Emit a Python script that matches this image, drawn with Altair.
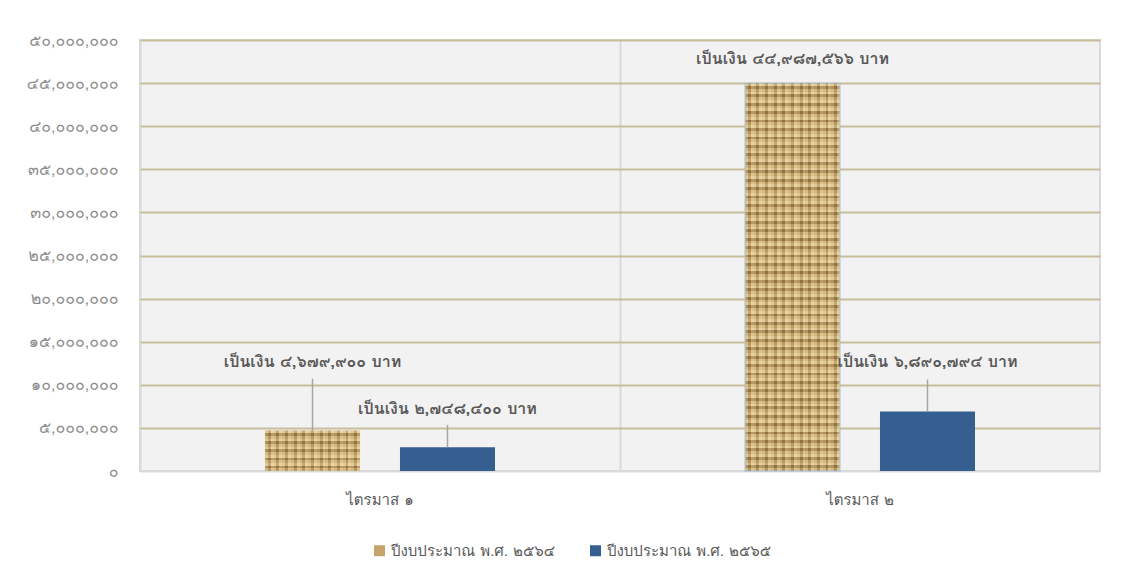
import altair as alt
import pandas as pd

quarters = ["ไตรมาส ๑", "ไตรมาส ๒"]
series = ["ปีงบประมาณ พ.ศ. ๒๕๖๔", "ปีงบประมาณ พ.ศ. ๒๕๖๕"]
values_2564 = [4679900, 44987566]
values_2565 = [2748400, 6890794]
label_text_2564 = ["เป็นเงิน ๔,๖๗๙,๙๐๐ บาท", "เป็นเงิน ๔๔,๙๘๗,๕๖๖ บาท"]
label_text_2565 = ["เป็นเงิน ๒,๗๔๘,๔๐๐ บาท", "เป็นเงิน ๖,๘๙๐,๗๙๔ บาท"]
label_at_2564 = [12600000, 47800000]
label_at_2565 = [7200000, 12600000]
leader_top_2564 = [10700000, None]
leader_top_2565 = [5350000, 10600000]
tick_labels = ["๐", "๕,๐๐๐,๐๐๐", "๑๐,๐๐๐,๐๐๐", "๑๕,๐๐๐,๐๐๐", "๒๐,๐๐๐,๐๐๐",
               "๒๕,๐๐๐,๐๐๐", "๓๐,๐๐๐,๐๐๐", "๓๕,๐๐๐,๐๐๐", "๔๐,๐๐๐,๐๐๐",
               "๔๕,๐๐๐,๐๐๐", "๕๐,๐๐๐,๐๐๐"]

rows = []
for i, q in enumerate(quarters):
    rows.append(dict(q=q, s=series[0], v=values_2564[i], lab=label_text_2564[i],
                     ly=label_at_2564[i], lt=leader_top_2564[i]))
    rows.append(dict(q=q, s=series[1], v=values_2565[i], lab=label_text_2565[i],
                     ly=label_at_2565[i], lt=leader_top_2565[i]))
df = pd.DataFrame(rows)

FONT = "Tahoma, 'Leelawadee UI', Loma, Garuda, 'Noto Sans Thai Looped', 'Noto Sans Thai', sans-serif"
TAN = "#c4a46a"
BLUE = "#355f91"

label_js = "[" + ",".join("'" + t + "'" for t in tick_labels) + "]"

x = alt.X("q:N", sort=quarters, title=None,
          scale=alt.Scale(paddingInner=0, paddingOuter=0),
          axis=alt.Axis(grid=True, bandPosition=0, gridColor="#d9d9d9", gridWidth=2,
                        domain=False, ticks=False, labelAngle=0, labelPadding=21,
                        labelFontSize=15, labelColor="#595959", labelFont=FONT))
xo = alt.XOffset("s:N", sort=series,
                 scale=alt.Scale(paddingInner=0.296, paddingOuter=0.926))
y = alt.Y("v:Q", title=None,
          scale=alt.Scale(domain=[0, 50000000]),
          axis=alt.Axis(values=list(range(0, 50000001, 5000000)),
                        labelExpr=label_js + "[round(datum.value/5000000)]",
                        gridColor={"condition": {"test": "datum.value === 0", "value": "#d9d9d9"},
                                   "value": "#c8bd9b"},
                        gridWidth=2, domain=False, ticks=False,
                        labelPadding=22, labelFontSize=16, labelColor="#8c8c8c",
                        labelFont=FONT, minExtent=132, maxExtent=132))

base = alt.Chart(df)

bars = base.mark_bar().encode(
    x=x, xOffset=xo, y=y,
    color=alt.Color("s:N", sort=series,
                    scale=alt.Scale(domain=series, range=[TAN, BLUE]),
                    legend=alt.Legend(title=None, orient="none", legendX=232, legendY=503,
                                      direction="horizontal", symbolType="square",
                                      symbolSize=121, symbolStrokeWidth=0,
                                      labelFontSize=15, labelColor="#595959",
                                      labelFont=FONT, columnPadding=32, labelLimit=300)),
)


def stripes(n, c1, c2, c3, horizontal):
    stops = []
    for k in range(n):
        a = k / n
        b = (k + 0.33) / n
        c = (k + 0.66) / n
        stops += [alt.GradientStop(offset=a, color=c1), alt.GradientStop(offset=b, color=c1),
                  alt.GradientStop(offset=b, color=c2), alt.GradientStop(offset=c, color=c2),
                  alt.GradientStop(offset=c, color=c3), alt.GradientStop(offset=min(1, (k + 1) / n), color=c3)]
    if horizontal:
        return alt.LinearGradient(gradient="linear", stops=stops, x1=0, x2=1, y1=0, y2=0)
    return alt.LinearGradient(gradient="linear", stops=stops, x1=0, x2=0, y1=0, y2=1)


s1 = base.transform_filter(alt.datum.s == series[0])
tex_v = s1.mark_bar(color=stripes(11, "#dcc28a", "#9a7842", "#ead8a8", True)).encode(
    x=x, xOffset=xo, y=y)
tex_h1 = s1.transform_filter(alt.datum.q == quarters[0]).mark_bar(
    color=stripes(5, "#e8d29e", "#8f6e3c", "#cfb27a", False), opacity=0.55).encode(
    x=x, xOffset=xo, y=y)
tex_h2 = s1.transform_filter(alt.datum.q == quarters[1]).mark_bar(
    color=stripes(46, "#e8d29e", "#8f6e3c", "#cfb27a", False), opacity=0.55,
    stroke="#9dbbe0", strokeWidth=1.5).encode(
    x=x, xOffset=xo, y=y)

leaders = base.transform_filter(alt.datum.lt != None).mark_rule(
    color="#a6a6a6", strokeWidth=1.5).encode(
    x=x, xOffset=xo, y=y, y2="lt:Q")

labels = base.mark_text(fontSize=16, fontWeight="bold", color="#595959",
                        font=FONT, baseline="middle").encode(
    x=x, xOffset=xo, y=alt.Y("ly:Q"), text="lab:N")

chart = alt.layer(bars, tex_v, tex_h1, tex_h2, leaders, labels).properties(
    width=960, height=431,
    padding={"left": 0, "top": 24, "right": 10, "bottom": 10},
    background="white",
).configure_view(
    fill="#f2f2f2", stroke="#d9d9d9", strokeWidth=2
)

chart.save("out.html", embed_options={"renderer": "svg", "actions": False})
